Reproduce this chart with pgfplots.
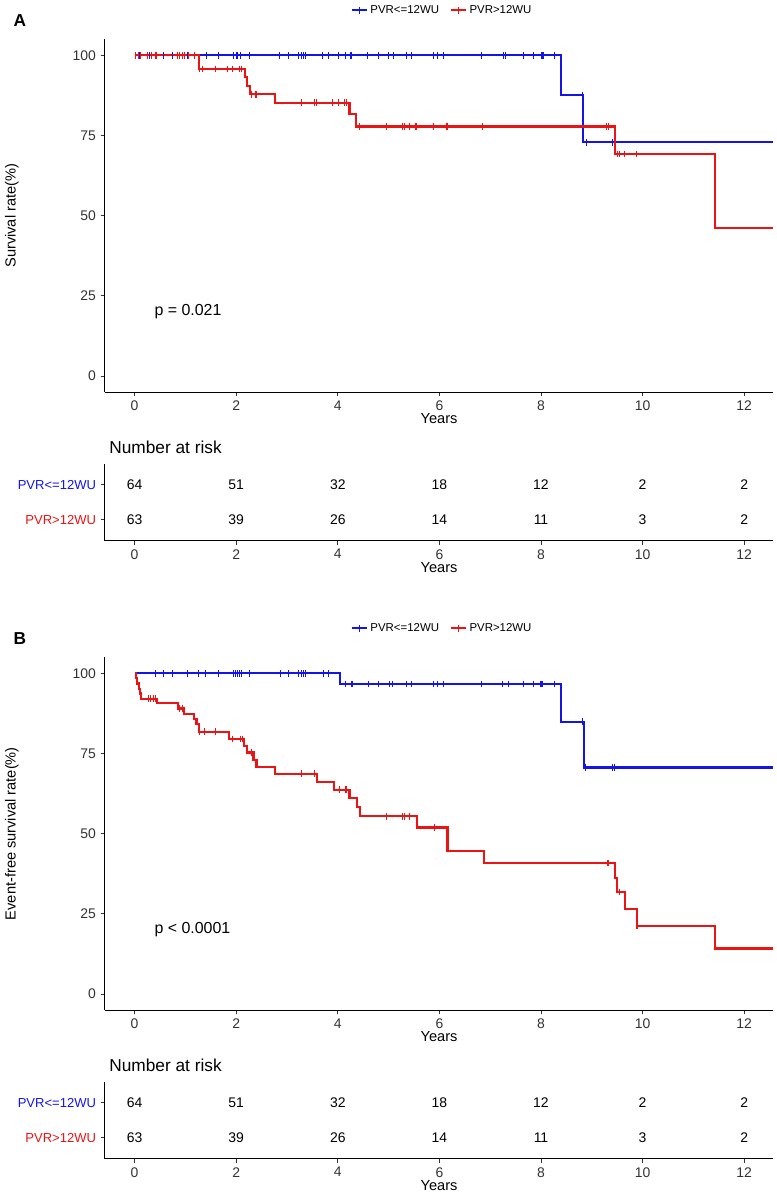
\documentclass[border=0pt]{standalone}
\usepackage{fontspec}
\setmainfont{Liberation Sans}
\usepackage{pgfplots}
\pgfplotsset{compat=1.18}
\definecolor{kmblue}{RGB}{20,20,230}
\definecolor{kmred}{RGB}{235,20,20}
\pgfplotsset{
  base/.style={
    scale only axis, width=503.25pt,
    xmin=-0.589, xmax=12.576,
    axis x line*=bottom, axis y line*=left,
    axis line style={-, black, line width=0.7pt},
    xtick={0,2,...,12},
    tick align=outside, major tick length=3pt,
    tick style={black!80, line width=0.6pt},
    tick label style={font=\fontsize{10.5}{12}\selectfont, color=black!80},
    /pgf/number format/assume math mode=true,
    xlabel={Years},
    every axis x label/.style={at={(axis description cs:0.5,#1)}, anchor=center, font=\fontsize{11}{13}\selectfont},
  },
  main/.style={
    base=-0.0754, height=265.5pt,
    ymin=-5, ymax=105, ytick={0,25,50,75,100},
    every axis y label/.style={at={(axis description cs:-0.1386,0.5)}, rotate=90, anchor=center, font=\fontsize{11}{13}\selectfont},
    legend style={at={(0.505,1.082)}, anchor=center, draw=none, fill=none, legend columns=2,
      font=\fontsize{8.6}{10}\selectfont, /tikz/every even column/.append style={column sep=6pt}},
    legend image code/.code={\draw[#1, line width=1.4pt] (0pt,0pt) -- (11.5pt,0pt); \draw[#1, line width=0.9pt] (5.75pt,-2.5pt) -- (5.75pt,2.5pt);},
  },
  risk/.style={
    base=-0.3506, height=57.75pt,
    ymin=0.4, ymax=2.6, ytick={1,2},
    yticklabels={\textcolor{kmred}{PVR>12WU},\textcolor{kmblue}{PVR<=12WU}},
    yticklabel style={font=\fontsize{9.8}{11}\selectfont},
  },
  km/.style={const plot, line width=1.6pt, mark=none},
  cens/.style={only marks, mark=|, mark size=2.5pt, mark options={line width=0.8pt}, forget plot},
  nums/.style={draw=none, mark=none, nodes near coords, point meta=explicit symbolic,
    every node near coord/.style={anchor=center, font=\fontsize{10.5}{12}\selectfont, color=black}},
}
\begin{document}
\begin{tikzpicture}
\path (0pt,0pt) rectangle (584.25pt,-896.25pt);
\node[font=\bfseries\fontsize{13}{15}\selectfont] at (15pt,-12.75pt) {A};
\node[font=\bfseries\fontsize{13}{15}\selectfont] at (15pt,-477.75pt) {B};
\node[anchor=west, font=\fontsize{13}{15}\selectfont] at (78.75pt,-333.75pt) {Number at risk};
\node[anchor=west, font=\fontsize{13}{15}\selectfont] at (78.75pt,-798.75pt) {Number at risk};

% ---------------- Panel A ----------------
\begin{axis}[main, at={(78.75pt,-292.5pt)}, anchor=south west, ylabel={Survival rate(\%)}]
\addplot[km, kmblue] coordinates {(0,100) (8.40,87.6) (8.82,72.9) (12.576,72.9)};
\addlegendentry{PVR<=12WU}
\addplot[km, kmred] coordinates {(0,100) (1.26,95.7) (2.17,93.3) (2.21,90.5) (2.28,87.8) (2.76,85.2) (4.23,81.7) (4.36,77.8) (9.46,69.2) (11.43,46.1) (12.576,46.1)};
\addlegendentry{PVR>12WU}
\addplot[cens, kmblue] coordinates {(0.10,100) (0.30,100) (0.57,100) (0.75,100) (1.04,100) (1.41,100) (1.65,100) (1.95,100) (2.00,100) (2.03,100) (2.09,100) (2.26,100) (2.86,100) (3.03,100) (3.22,100) (3.28,100) (3.32,100) (3.36,100) (3.69,100) (3.82,100) (4.02,100) (4.15,100) (4.26,100) (4.59,100) (4.81,100) (5.00,100) (5.10,100) (5.36,100) (5.45,100) (5.89,100) (5.97,100) (6.08,100) (6.82,100) (7.26,100) (7.31,100) (7.65,100) (7.86,100) (8.01,100) (8.04,100) (8.27,100) (8.81,87.6) (8.89,72.9) (9.40,72.9)};
\addplot[cens, kmred] coordinates {(0.02,100) (0.08,100) (0.11,100) (0.26,100) (0.33,100) (0.41,100) (0.44,100) (0.84,100) (0.88,100) (0.95,100) (0.99,100) (1.06,100) (1.18,100) (1.28,95.7) (1.34,95.7) (1.60,95.7) (1.83,95.7) (1.92,95.7) (2.07,95.7) (2.11,95.7) (2.31,87.8) (2.39,87.8) (3.29,85.2) (3.55,85.2) (3.58,85.2) (3.90,85.2) (4.02,85.2) (4.13,85.2) (4.18,85.2) (4.43,77.8) (4.95,77.8) (5.28,77.8) (5.32,77.8) (5.41,77.8) (5.54,77.8) (5.89,77.8) (6.15,77.8) (6.85,77.8) (9.29,77.8) (9.32,77.8) (9.50,69.2) (9.55,69.2) (9.65,69.2) (9.88,69.2)};
\node[anchor=west, font=\fontsize{12}{14}\selectfont] at (axis cs:0.3,20) {p = 0.021};
\end{axis}

\begin{axis}[risk, at={(78.75pt,-404.25pt)}, anchor=south west]
\addplot[nums] table[meta=lab] {
x y lab
0 2 64
2 2 51
4 2 32
6 2 18
8 2 12
10 2 2
12 2 2
};
\addplot[nums] table[meta=lab] {
x y lab
0 1 63
2 1 39
4 1 26
6 1 14
8 1 11
10 1 3
12 1 2
};
\end{axis}

% ---------------- Panel B ----------------
\begin{axis}[main, at={(78.75pt,-757.5pt)}, anchor=south west, ylabel={Event-free survival rate(\%)}]
\addplot[km, kmblue] coordinates {(0,100) (4.04,96.7) (8.40,84.9) (8.84,70.6) (12.576,70.6)};
\addlegendentry{PVR<=12WU}
\addplot[km, kmred] coordinates {(0,100) (0.02,98.4) (0.05,96.8) (0.08,95.2) (0.10,93.7) (0.13,92.1) (0.44,90.6) (0.86,89.0) (0.98,87.4) (1.17,85.7) (1.22,84.1) (1.26,81.8) (1.85,79.5) (2.15,77.4) (2.21,75.3) (2.34,73.0) (2.40,70.8) (2.77,68.7) (3.59,66.2) (3.92,63.7) (4.23,61.2) (4.38,58.3) (4.43,55.4) (5.56,51.9) (6.16,44.7) (6.87,40.9) (9.46,36.1) (9.50,31.8) (9.66,26.6) (9.89,21.2) (11.43,14.2) (12.576,14.2)};
\addlegendentry{PVR>12WU}
\addplot[cens, kmblue] coordinates {(0.41,100) (0.57,100) (0.75,100) (1.05,100) (1.26,100) (1.39,100) (1.65,100) (1.94,100) (1.98,100) (2.02,100) (2.07,100) (2.11,100) (2.26,100) (2.88,100) (3.03,100) (3.22,100) (3.28,100) (3.32,100) (3.36,100) (3.71,100) (3.81,100) (4.15,96.7) (4.28,96.7) (4.60,96.7) (4.81,96.7) (5.02,96.7) (5.08,96.7) (5.36,96.7) (5.45,96.7) (5.89,96.7) (5.97,96.7) (6.08,96.7) (6.82,96.7) (7.25,96.7) (7.36,96.7) (7.65,96.7) (7.85,96.7) (8.00,96.7) (8.03,96.7) (8.27,96.7) (8.82,84.9) (8.88,70.6) (9.40,70.6) (9.45,70.6)};
\addplot[cens, kmred] coordinates {(0.27,92.1) (0.31,92.1) (0.38,92.1) (0.41,92.1) (0.88,89.0) (0.94,89.0) (1.28,81.8) (1.37,81.8) (1.60,81.8) (1.93,79.5) (2.09,79.5) (2.12,79.5) (2.31,75.3) (3.29,68.7) (3.55,68.7) (4.04,63.7) (4.15,63.7) (4.18,63.7) (4.95,55.4) (5.27,55.4) (5.31,55.4) (5.41,55.4) (5.90,51.9) (9.30,40.9) (9.32,40.9) (9.55,31.8) (9.89,21.2)};
\node[anchor=west, font=\fontsize{12}{14}\selectfont] at (axis cs:0.3,20) {p < 0.0001};
\end{axis}

\begin{axis}[risk, at={(78.75pt,-869.25pt)}, anchor=south west]
\addplot[nums] table[meta=lab] {
x y lab
0 2 64
2 2 51
4 2 32
6 2 18
8 2 12
10 2 2
12 2 2
};
\addplot[nums] table[meta=lab] {
x y lab
0 1 63
2 1 39
4 1 26
6 1 14
8 1 11
10 1 3
12 1 2
};
\end{axis}
\end{tikzpicture}
\end{document}
